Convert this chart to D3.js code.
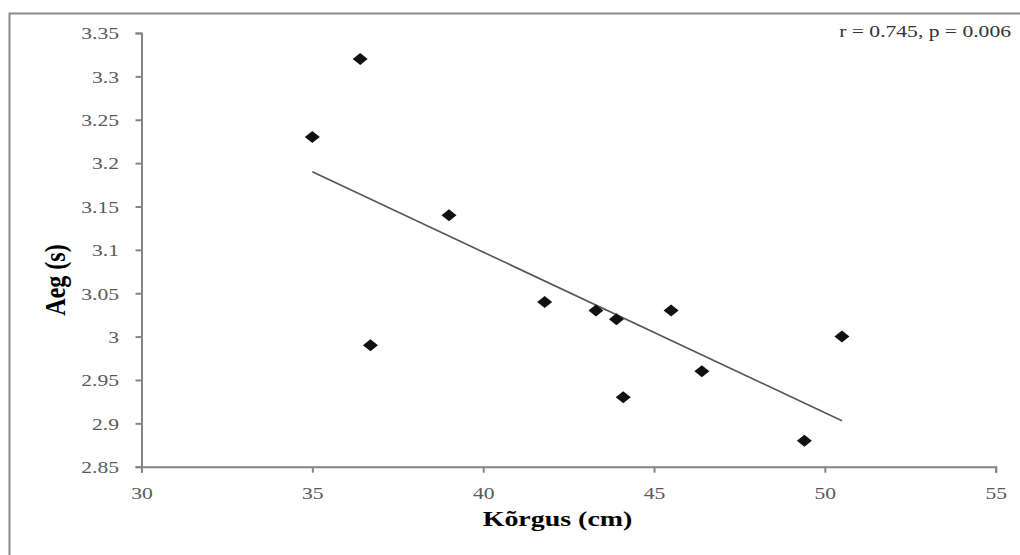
<!DOCTYPE html>
<html>
<head>
<meta charset="utf-8">
<script src="https://cdn.jsdelivr.net/npm/d3@7"></script>
<style>
    body { margin: 0; background: #fff; }
    svg { display: block; }
    text { font-family: "Liberation Serif", "Times New Roman", serif; }
</style>
</head>
<body>
<div id="chart"></div>
<script>
// DATA
var korgus = [35, 36.4, 39, 36.7, 41.8, 43.3, 43.9, 44.1, 45.5, 46.4, 49.4, 50.5];
var aeg = [3.23, 3.32, 3.14, 2.99, 3.04, 3.03, 3.02, 2.93, 3.03, 2.96, 2.88, 3.00];
var trendX = [35, 50.5];
var trendY = [3.19, 2.903];
var xTicks = [30, 35, 40, 45, 50, 55];
var yTicks = [2.85, 2.9, 2.95, 3, 3.05, 3.1, 3.15, 3.2, 3.25, 3.3, 3.35];
var xTitle = "Kõrgus (cm)";
var yTitle = "Aeg (s)";
var note = "r = 0.745, p = 0.006";

var svgWidth = 1020;
var svgHeight = 555;
var stretch = 1.27; // the source picture is wider than tall

var svg = d3.select("#chart")
    .append("svg")
        .attr("width", svgWidth)
        .attr("height", svgHeight);

// Outer frame (only top and left edges show)
svg.append("path")
    .attr("d", "M9.5,555 V13.5 H1020")
    .attr("fill", "none")
    .attr("stroke", "#8a8a8a")
    .attr("stroke-width", 2);

var x = d3.scaleLinear()
    .domain([30, 55])
    .range([141.5, 995.7]);

var y = d3.scaleLinear()
    .domain([2.85, 3.35])
    .range([466.7, 33]);

// Axes
var xAxis = svg.append("g")
    .attr("transform", "translate(0," + y(2.85) + ")")
    .call(d3.axisBottom(x).tickValues(xTicks).tickSize(6).tickFormat(d3.format("d")));

var yAxis = svg.append("g")
    .attr("transform", "translate(" + x(30) + ",0)")
    .call(d3.axisLeft(y).tickValues(yTicks).tickSize(6).tickFormat(d => String(+d.toFixed(2))));

[xAxis, yAxis].forEach(function(ax) {
    ax.select(".domain").attr("stroke", "#858585").attr("stroke-width", 2);
    ax.selectAll(".tick line").attr("stroke", "#858585").attr("stroke-width", 2);
    ax.selectAll(".tick text")
        .attr("fill", "#5a5a5a")
        .style("font-size", "17px")
        .style("font-family", "'Liberation Serif', serif");
});

xAxis.selectAll(".tick text")
    .attr("y", 20)
    .attr("dy", "0.71em")
    .attr("x", 0)
    .attr("transform", "scale(" + stretch + ",1)");

yAxis.selectAll(".tick text")
    .attr("x", -22.5 / stretch)
    .attr("dy", "0.34em")
    .attr("transform", "scale(" + stretch + ",1)");

// Trend line
svg.append("path")
    .datum(d3.zip(trendX, trendY))
    .attr("fill", "none")
    .attr("stroke", "#555")
    .attr("stroke-width", 1.6)
    .attr("d", d3.line()
        .x(d => x(d[0]))
        .y(d => y(d[1])));

// Diamond markers
var diamond = "M0,-6 L7.5,0 L0,6 L-7.5,0 Z";
svg.selectAll(".pt")
    .data(d3.zip(korgus, aeg))
    .enter()
    .append("path")
        .attr("class", "pt")
        .attr("d", diamond)
        .attr("fill", "#111")
        .attr("transform", d => "translate(" + x(d[0]) + "," + y(d[1]) + ")");

// Titles
svg.append("text")
    .attr("transform", "translate(" + ((482 + 633) / 2) + ",526) scale(" + stretch + ",1)")
    .attr("text-anchor", "middle")
    .style("font-size", "22px")
    .style("font-weight", "bold")
    .attr("fill", "#000")
    .text(xTitle);

svg.append("text")
    .attr("transform", "translate(56,280) scale(" + stretch + ",1) rotate(-90)")
    .attr("text-anchor", "middle")
    .attr("dy", "0.3em")
    .style("font-size", "24px")
    .style("font-weight", "bold")
    .attr("fill", "#000")
    .text(yTitle);

// Correlation note
svg.append("text")
    .attr("transform", "translate(1011,37) scale(" + stretch + ",1)")
    .attr("text-anchor", "end")
    .style("font-size", "17px")
    .attr("fill", "#333")
    .text(note);
</script>
</body>
</html>
